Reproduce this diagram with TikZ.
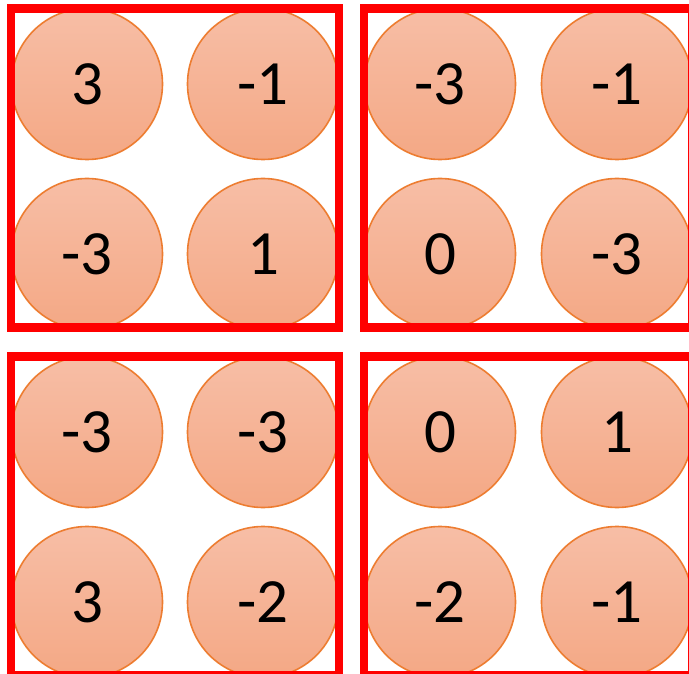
\documentclass[tikz,border=0pt]{standalone}
\usepackage{fontspec}
\setmainfont{Carlito}
\usepackage{xcolor}
\usetikzlibrary{positioning}
\definecolor{ballline}{RGB}{237,125,49}
\definecolor{balltop}{RGB}{247,190,166}
\definecolor{ballbot}{RGB}{244,168,133}
\definecolor{panelred}{RGB}{255,0,0}
\tikzset{
  ball/.style={circle, draw=ballline, line width=1.6pt, top color=balltop,
               bottom color=ballbot, minimum size=151pt, inner sep=0pt,
               font=\fontsize{63}{63}\selectfont},
  panel/.style={draw=panelred, line width=8.4pt, minimum width=328pt,
                minimum height=319pt, inner sep=0pt}
}

\begin{document}
\begin{tikzpicture}[x=1pt, y=-1pt]
    \useasboundingbox (0,0) rectangle (689,674);
    \clip (0,0) rectangle (689,674);
    % top left
    \node[ball] (a1) at (87,84) {3};
    \node[ball] (a2) at (263,84) {-1};
    \node[ball] (a3) at (87,254) {-3};
    \node[ball] (a4) at (263,254) {1};
    % top right
    \node[ball] (b1) at (440,84) {-3};
    \node[ball] (b2) at (617,84) {-1};
    \node[ball] (b3) at (440,254) {0};
    \node[ball] (b4) at (617,254) {-3};
    % bottom left
    \node[ball] (c1) at (87,432) {-3};
    \node[ball] (c2) at (263,432) {-3};
    \node[ball] (c3) at (87,602) {3};
    \node[ball] (c4) at (263,602) {-2};
    % bottom right
    \node[ball] (d1) at (440,432) {0};
    \node[ball] (d2) at (617,432) {1};
    \node[ball] (d3) at (440,602) {-2};
    \node[ball] (d4) at (617,602) {-1};
    % frames
    \node[panel] (pa) at (175,168) {};
    \node[panel] (pb) at (528,168) {};
    \node[panel] (pc) at (175,516) {};
    \node[panel] (pd) at (528,516) {};
  \end{tikzpicture}
\end{document}
